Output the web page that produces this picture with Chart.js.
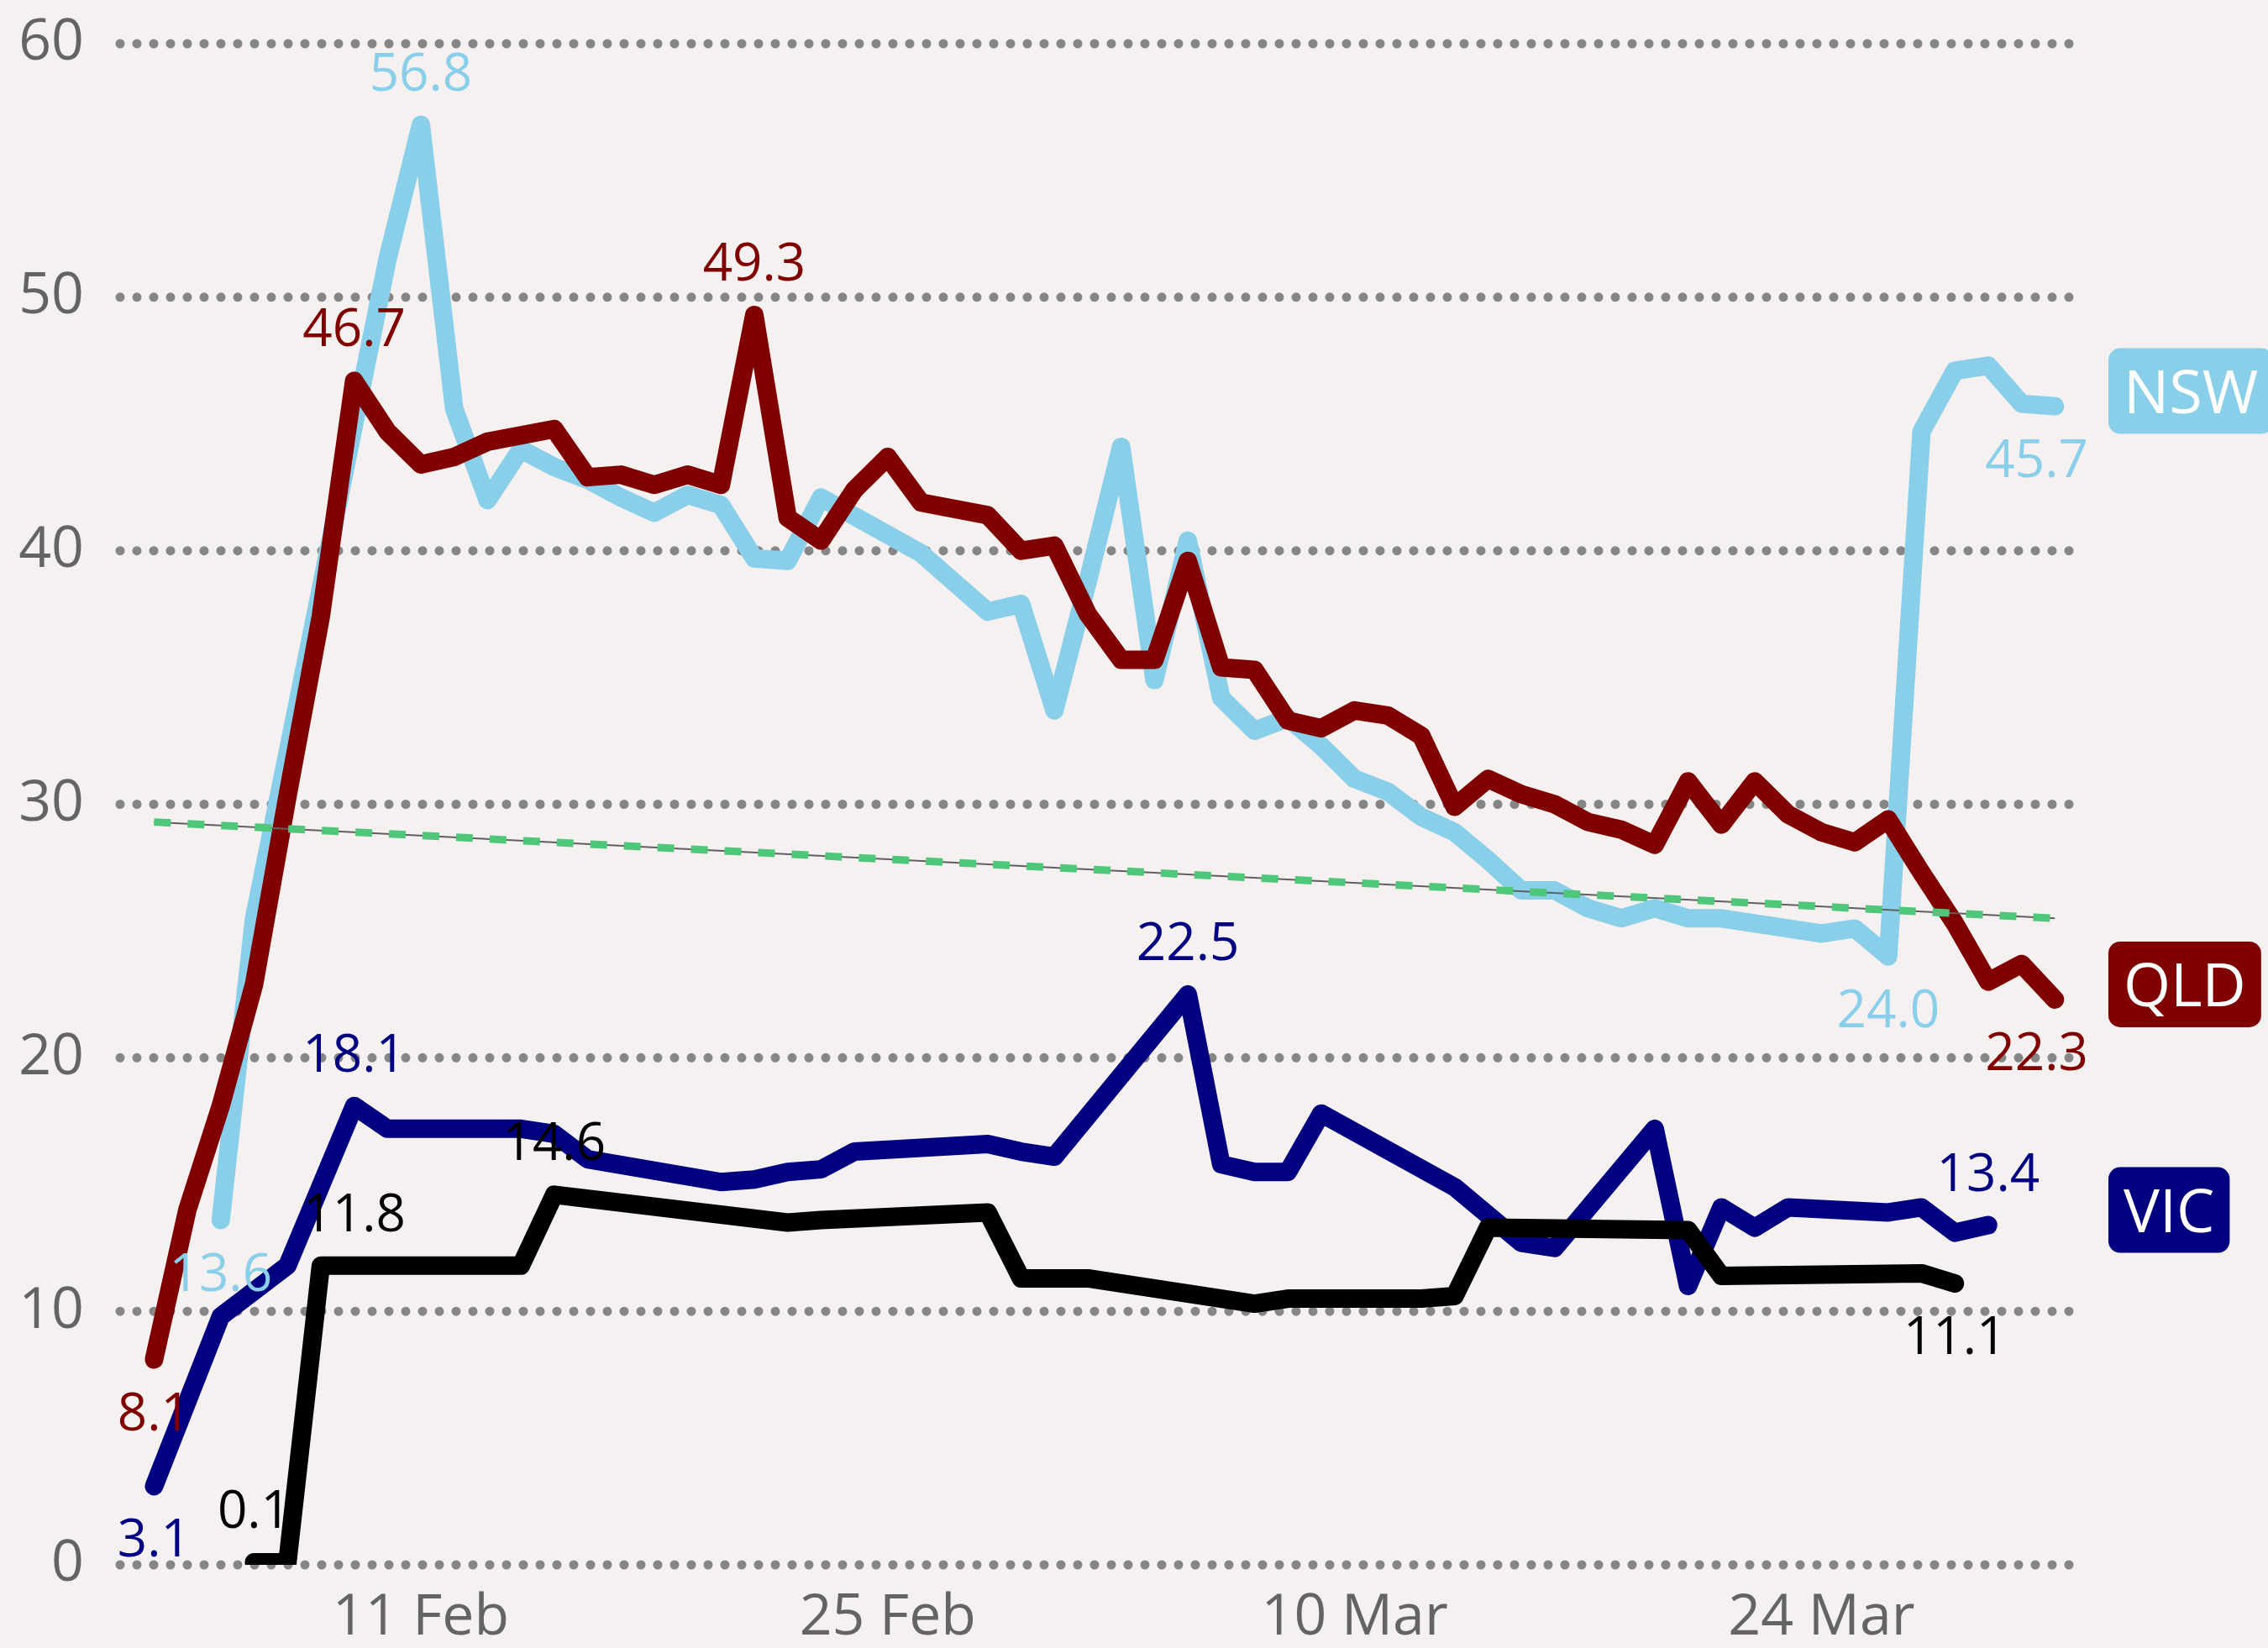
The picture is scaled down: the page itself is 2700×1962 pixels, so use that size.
<!DOCTYPE html>
<html>
<head>
<meta charset="utf-8">
<script src="https://cdn.jsdelivr.net/npm/chart.js@4.4.1/dist/chart.umd.min.js"></script>
<style>
  html, body { margin: 0; padding: 0; background: #f6f1f1; }
  canvas { display: block; }
</style>
</head>
<body>
<canvas id="chart" width="2700" height="1962" style="width:2700px;height:1962px"></canvas>
<script>
// day number counted from 1 Feb (= 0); 2 = 3 Feb ... 59 = 31 Mar
var days = [2, 3, 4, 5, 6, 7, 8, 9, 10, 11, 12, 13, 14, 15, 16, 17, 18, 19, 20, 21,
            22, 23, 24, 25, 26, 27, 28, 29, 30, 31, 32, 33, 34, 35, 36, 37, 38, 39, 40, 41,
            42, 43, 44, 45, 46, 47, 48, 49, 50, 51, 52, 53, 54, 55, 56, 57, 58, 59];

var nsw = [null, null, 13.6, 25.5, 32.0, 38.5, 45.0, 51.5, 56.8, 45.6, 42.0, 44.0, 43.3, 42.8, 42.1, 41.5, 42.2, 41.8, 39.7, 39.6,
           42.1, null, null, 39.9, null, 37.6, 37.9, 33.7, 38.8, 44.1, 34.9, 40.4, 34.2, 32.9, 33.4, 32.3, 31.0, 30.5, 29.5, 28.9,
           27.8, 26.6, 26.6, 25.9, 25.5, 25.9, 25.5, 25.5, 25.3, 25.1, 24.9, 25.1, 24.0, 44.7, 47.1, 47.3, 45.8, 45.7];

var qld = [8.1, 14.0, 18.1, 22.9, 30.3, 37.4, 46.7, 44.7, 43.4, 43.7, 44.3, null, 44.8, 42.9, 43.0, 42.6, 43.0, 42.6, 49.3, 41.3,
           40.4, 42.4, 43.7, 41.9, null, 41.4, 40.0, 40.2, 37.5, 35.7, 35.7, 39.6, 35.4, 35.3, 33.3, 33.0, 33.7, 33.5, 32.7, 29.9,
           31.0, 30.4, 30.0, 29.3, 29.0, 28.4, 30.9, 29.2, 30.9, 29.6, 28.9, 28.5, 29.4, 27.3, 25.3, 23.0, 23.7, 22.3];

var vic = [3.1, null, 9.8, null, 11.8, null, 18.1, 17.2, null, null, null, 17.2, 17.0, 16.0, null, null, null, 15.1, 15.2, 15.5,
           15.6, 16.3, null, null, null, 16.6, 16.3, 16.1, null, null, null, 22.5, 15.8, 15.5, 15.5, 17.8, null, null, null, 14.9,
           null, 12.7, 12.5, null, null, 17.2, 11.0, 14.1, 13.3, 14.1, null, null, 13.9, 14.1, 13.1, 13.4, null, null];

var other = [null, null, null, 0.1, 0.1, 11.8, 11.8, null, null, null, null, 11.8, 14.6, null, null, null, null, null, null, 13.5,
             13.6, null, null, null, null, 13.9, 11.3, null, 11.3, null, null, null, null, 10.3, 10.5, null, null, null, 10.5, 10.6,
             13.3, null, null, null, null, null, 13.2, 11.4, null, null, null, null, null, 11.5, 11.1, null, null, null];

// trend line end points
var trendDays = [2, 59];
var trendValues = [29.3, 25.5];

// labelled points
var nswLabelDays = [4, 10, 54, 59];
var nswLabelPos = ['below', 'above', 'below', 'below'];
var qldLabelDays = [2, 8, 20, 59];
var qldLabelPos = ['below', 'above', 'above', 'below'];
var vicLabelDays = [2, 8, 33, 57];
var vicLabelPos = ['below', 'above', 'above', 'above'];
var otherLabelDays = [5, 8, 14, 56];
var otherLabelPos = ['above', 'above', 'above', 'below'];

var tickDays = [10, 24, 38, 52];
var tickLabels = ['11 Feb', '25 Feb', '10 Mar', '24 Mar'];
var yTicks = [0, 10, 20, 30, 40, 50, 60];

function toPoints(xs, ys) {
    var out = [];
    for (var i = 0; i < xs.length; i++) out.push({x: xs[i], y: ys[i]});
    return out;
}

function series(vals, color, labelDays, labelPos, boxName) {
    return {
        data: toPoints(days, vals),
        borderColor: color,
        borderWidth: 22,
        borderCapStyle: 'round',
        borderJoinStyle: 'round',
        pointRadius: 0,
        tension: 0,
        spanGaps: true,
        fill: false,
        labelDays: labelDays,
        labelPos: labelPos,
        boxName: boxName
    };
}

var bgPlugin = {
    id: 'bg',
    beforeDraw: function(chart) {
        var ctx = chart.ctx;
        ctx.save();
        ctx.fillStyle = '#f6f1f1';
        ctx.fillRect(0, 0, chart.width, chart.height);
        ctx.restore();
    }
};

// dotted horizontal grid
var dotGridPlugin = {
    id: 'dotGrid',
    beforeDatasetsDraw: function(chart) {
        var ctx = chart.ctx, area = chart.chartArea, ys = chart.scales.y;
        var x0 = area.left + 5;
        var x1 = x0 + Math.floor((area.right - x0) / 20) * 20;
        ctx.save();
        ctx.strokeStyle = '#868686';
        ctx.lineWidth = 11;
        ctx.lineCap = 'round';
        ctx.setLineDash([0, 20]);
        ys.ticks.forEach(function(t) {
            var y = ys.getPixelForValue(t.value);
            ctx.beginPath();
            ctx.moveTo(x0, y);
            ctx.lineTo(x1, y);
            ctx.stroke();
        });
        ctx.restore();
    }
};

var valueLabelPlugin = {
    id: 'valueLabels',
    afterDatasetsDraw: function(chart) {
        var ctx = chart.ctx, area = chart.chartArea;
        ctx.save();
        ctx.font = '62px "Open Sans"';
        ctx.textAlign = 'center';
        ctx.textBaseline = 'alphabetic';
        chart.data.datasets.forEach(function(ds, i) {
            if (!ds.labelDays) return;
            var pts = chart.getDatasetMeta(i).data;
            ds.labelDays.forEach(function(d, k) {
                var idx = days.indexOf(d);
                var pt = pts[idx];
                var txt = ds.data[idx].y.toFixed(1);
                var half = ctx.measureText(txt).width / 2;
                var cx = Math.min(Math.max(pt.x, area.left + half), area.right - half);
                var cy = ds.labelPos[k] === 'above' ? pt.y - 63 : pt.y + 62;
                ctx.fillStyle = ds.borderColor;
                ctx.fillText(txt, cx, cy + 22);
            });
        });
        ctx.restore();
    }
};

var endBoxPlugin = {
    id: 'endBoxes',
    afterDraw: function(chart) {
        var ctx = chart.ctx;
        ctx.save();
        ctx.font = '72px "Open Sans"';
        ctx.textAlign = 'left';
        ctx.textBaseline = 'alphabetic';
        chart.data.datasets.forEach(function(ds, i) {
            if (!ds.boxName) return;
            var pts = chart.getDatasetMeta(i).data;
            var last = null;
            for (var k = pts.length - 1; k >= 0; k--) {
                if (ds.data[k].y !== null) { last = pts[k]; break; }
            }
            var w = ctx.measureText(ds.boxName).width + 36;
            var h = 102, r = 14;
            var x = chart.chartArea.right + 24;
            var y = last.y - 18 - h / 2;
            ctx.fillStyle = ds.borderColor;
            ctx.beginPath();
            ctx.moveTo(x + r, y);
            ctx.arcTo(x + w, y, x + w, y + h, r);
            ctx.arcTo(x + w, y + h, x, y + h, r);
            ctx.arcTo(x, y + h, x, y, r);
            ctx.arcTo(x, y, x + w, y, r);
            ctx.closePath();
            ctx.fill();
            ctx.fillStyle = '#ffffff';
            ctx.fillText(ds.boxName, x + 18, y + h / 2 + 26);
        });
        ctx.restore();
    }
};

Chart.defaults.font.family = "'Open Sans', sans-serif";

var ctx = document.getElementById('chart').getContext('2d');
new Chart(ctx, {
    type: 'line',
    data: {
        datasets: [
            {
                data: toPoints(trendDays, trendValues),
                borderColor: '#4fc77a',
                borderWidth: 9,
                borderDash: [20, 20],
                borderCapStyle: 'butt',
                pointRadius: 0,
                fill: false
            },
            {
                data: toPoints(trendDays, trendValues),
                borderColor: '#606060',
                borderWidth: 2,
                pointRadius: 0,
                fill: false
            },
            series(other, '#000000', otherLabelDays, otherLabelPos, null),
            series(vic, '#000080', vicLabelDays, vicLabelPos, 'VIC'),
            series(qld, '#800000', qldLabelDays, qldLabelPos, 'QLD'),
            series(nsw, '#89cfea', nswLabelDays, nswLabelPos, 'NSW')
        ]
    },
    options: {
        responsive: false,
        devicePixelRatio: 1,
        animation: false,
        layout: { padding: { top: 52, right: 214, bottom: 0, left: 0 } },
        plugins: {
            legend: { display: false },
            tooltip: { enabled: false }
        },
        scales: {
            x: {
                type: 'linear',
                min: 0.857,
                max: 60.0,
                grid: { display: false, drawTicks: false },
                border: { display: false },
                afterBuildTicks: function(scale) {
                    scale.ticks = tickDays.map(function(v) { return {value: v}; });
                },
                afterFit: function(scale) {
                    scale.height = 99;
                    scale.paddingLeft = 0;
                    scale.paddingRight = 0;
                },
                ticks: {
                    autoSkip: false,
                    maxRotation: 0,
                    padding: 23,
                    color: '#646464',
                    font: { size: 68 },
                    callback: function(v) { return tickLabels[tickDays.indexOf(v)]; }
                }
            },
            y: {
                type: 'linear',
                min: 0,
                max: 60,
                grid: { display: false, drawTicks: false },
                border: { display: false },
                afterBuildTicks: function(scale) {
                    scale.ticks = yTicks.map(function(v) { return {value: v}; });
                },
                afterFit: function(scale) {
                    scale.width = 138;
                    scale.paddingTop = 0;
                    scale.paddingBottom = 0;
                },
                ticks: {
                    padding: 38,
                    color: '#646464',
                    font: { size: 68 }
                }
            }
        }
    },
    plugins: [bgPlugin, dotGridPlugin, valueLabelPlugin, endBoxPlugin]
});
</script>
</body>
</html>
